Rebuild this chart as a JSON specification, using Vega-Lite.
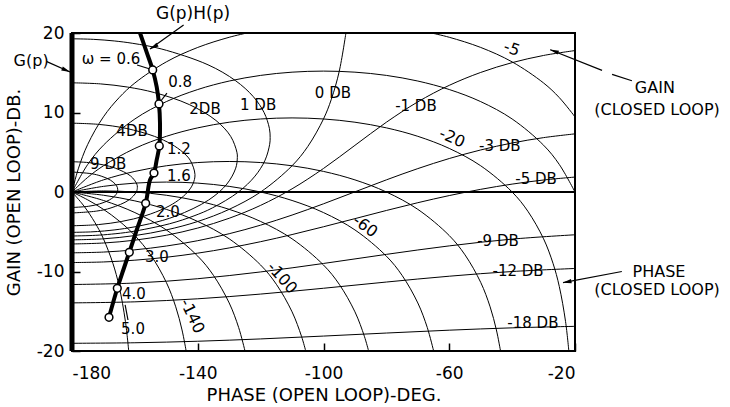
{
"$schema": "https://vega.github.io/schema/vega-lite/v6.json",
"width": 503, "height": 318,
"autosize": "none",
"padding": {"left": 72, "top": 33, "right": 155, "bottom": 56},
"background": "white",
"config": {"view": {"stroke": "black", "strokeWidth": 2}, "font": "DejaVu Sans"},
"datasets": {
"m": [
{"c":"-1","phase":-20,"gain":17.79},{"c":"-1","phase":-30,"gain":17.175},{"c":"-1","phase":-40,"gain":16.272},{"c":"-1","phase":-50,"gain":15.039},{"c":"-1","phase":-60,"gain":13.417},{"c":"-1","phase":-70,"gain":11.338},{"c":"-1","phase":-80,"gain":8.777},{"c":"-1","phase":-90,"gain":5.869},{"c":"-1","phase":-100,"gain":2.96},{"c":"-1","phase":-110,"gain":0.399},{"c":"-1","phase":-120,"gain":-1.68},{"c":"-1","phase":-130,"gain":-3.302},{"c":"-1","phase":-140,"gain":-4.536},{"c":"-1","phase":-150,"gain":-5.439},{"c":"-1","phase":-160,"gain":-6.058},{"c":"-1","phase":-170,"gain":-6.416},{"c":"-1","phase":-180,"gain":-6.535},
{"c":"-3","phase":-20,"gain":7.314},{"c":"-3","phase":-30,"gain":6.839},{"c":"-3","phase":-40,"gain":6.165},{"c":"-3","phase":-50,"gain":5.288},{"c":"-3","phase":-60,"gain":4.21},{"c":"-3","phase":-70,"gain":2.944},{"c":"-3","phase":-80,"gain":1.526},{"c":"-3","phase":-90,"gain":0.021},{"c":"-3","phase":-100,"gain":-1.484},{"c":"-3","phase":-110,"gain":-2.901},{"c":"-3","phase":-120,"gain":-4.169},{"c":"-3","phase":-130,"gain":-5.247},{"c":"-3","phase":-140,"gain":-6.124},{"c":"-3","phase":-150,"gain":-6.798},{"c":"-3","phase":-160,"gain":-7.274},{"c":"-3","phase":-170,"gain":-7.556},{"c":"-3","phase":-180,"gain":-7.649},
{"c":"-5","phase":-20,"gain":1.88},{"c":"-5","phase":-30,"gain":1.509},{"c":"-5","phase":-40,"gain":0.993},{"c":"-5","phase":-50,"gain":0.336},{"c":"-5","phase":-60,"gain":-0.45},{"c":"-5","phase":-70,"gain":-1.346},{"c":"-5","phase":-80,"gain":-2.325},{"c":"-5","phase":-90,"gain":-3.349},{"c":"-5","phase":-100,"gain":-4.372},{"c":"-5","phase":-110,"gain":-5.352},{"c":"-5","phase":-120,"gain":-6.249},{"c":"-5","phase":-130,"gain":-7.035},{"c":"-5","phase":-140,"gain":-7.692},{"c":"-5","phase":-150,"gain":-8.208},{"c":"-5","phase":-160,"gain":-8.577},{"c":"-5","phase":-170,"gain":-8.801},{"c":"-5","phase":-180,"gain":-8.875},
{"c":"-9","phase":-20,"gain":-5.38},{"c":"-9","phase":-40,"gain":-5.925},{"c":"-9","phase":-60,"gain":-6.778},{"c":"-9","phase":-80,"gain":-7.844},{"c":"-9","phase":-100,"gain":-8.988},{"c":"-9","phase":-120,"gain":-10.054},{"c":"-9","phase":-140,"gain":-10.907},{"c":"-9","phase":-160,"gain":-11.451},{"c":"-9","phase":-180,"gain":-11.637},
{"c":"-12","phase":-20,"gain":-9.619},{"c":"-12","phase":-40,"gain":-10.002},{"c":"-12","phase":-60,"gain":-10.592},{"c":"-12","phase":-80,"gain":-11.325},{"c":"-12","phase":-100,"gain":-12.108},{"c":"-12","phase":-120,"gain":-12.84},{"c":"-12","phase":-140,"gain":-13.433},{"c":"-12","phase":-160,"gain":-13.815},{"c":"-12","phase":-180,"gain":-13.947},
{"c":"-18","phase":-20,"gain":-16.898},{"c":"-18","phase":-40,"gain":-17.088},{"c":"-18","phase":-60,"gain":-17.381},{"c":"-18","phase":-80,"gain":-17.74},{"c":"-18","phase":-100,"gain":-18.122},{"c":"-18","phase":-120,"gain":-18.481},{"c":"-18","phase":-140,"gain":-18.773},{"c":"-18","phase":-160,"gain":-18.963},{"c":"-18","phase":-180,"gain":-19.031},
{"c":"0","phase":-92.87,"gain":20},{"c":"0","phase":-95,"gain":15.17},{"c":"0","phase":-97.5,"gain":11.67},{"c":"0","phase":-100,"gain":9.19},{"c":"0","phase":-105,"gain":5.72},{"c":"0","phase":-110,"gain":3.3},{"c":"0","phase":-120,"gain":0},{"c":"0","phase":-130,"gain":-2.18},{"c":"0","phase":-140,"gain":-3.71},{"c":"0","phase":-150,"gain":-4.77},{"c":"0","phase":-160,"gain":-5.48},{"c":"0","phase":-170,"gain":-5.89},{"c":"0","phase":-180,"gain":-6.02},
{"c":"1","phase":-180,"gain":19.273},{"c":"1","phase":-173.09,"gain":19.2},{"c":"1","phase":-166.57,"gain":19},{"c":"1","phase":-160.67,"gain":18.7},{"c":"1","phase":-151.64,"gain":18},{"c":"1","phase":-136.73,"gain":16},{"c":"1","phase":-127.97,"gain":14},{"c":"1","phase":-122.34,"gain":12},{"c":"1","phase":-118.9,"gain":10},{"c":"1","phase":-117.21,"gain":8},{"c":"1","phase":-116.97,"gain":6.87},{"c":"1","phase":-117.12,"gain":6},{"c":"1","phase":-118.59,"gain":4},{"c":"1","phase":-121.78,"gain":2},{"c":"1","phase":-127.07,"gain":0},{"c":"1","phase":-135.33,"gain":-2},{"c":"1","phase":-141.18,"gain":-3},{"c":"1","phase":-149.01,"gain":-4},{"c":"1","phase":-161.25,"gain":-5},{"c":"1","phase":-167.49,"gain":-5.3},{"c":"1","phase":-172.45,"gain":-5.45},{"c":"1","phase":-180,"gain":-5.535},
{"c":"2","phase":-180,"gain":13.734},{"c":"2","phase":-170.98,"gain":13.6},{"c":"2","phase":-162.34,"gain":13.2},{"c":"2","phase":-153.73,"gain":12.5},{"c":"2","phase":-142.71,"gain":11},{"c":"2","phase":-134.22,"gain":9},{"c":"2","phase":-129.53,"gain":7},{"c":"2","phase":-127.54,"gain":5},{"c":"2","phase":-127.41,"gain":4.33},{"c":"2","phase":-127.92,"gain":3},{"c":"2","phase":-130.74,"gain":1},{"c":"2","phase":-136.51,"gain":-1},{"c":"2","phase":-146.81,"gain":-3},{"c":"2","phase":-155.36,"gain":-4},{"c":"2","phase":-163.3,"gain":-4.6},{"c":"2","phase":-169.71,"gain":-4.9},{"c":"2","phase":-174.11,"gain":-5.02},{"c":"2","phase":-180,"gain":-5.076},
{"c":"4","phase":-180,"gain":8.657},{"c":"4","phase":-171.36,"gain":8.5},{"c":"4","phase":-162.75,"gain":8},{"c":"4","phase":-153.78,"gain":7},{"c":"4","phase":-148.33,"gain":6},{"c":"4","phase":-144.72,"gain":5},{"c":"4","phase":-142.41,"gain":4},{"c":"4","phase":-140.88,"gain":2.2},{"c":"4","phase":-141.56,"gain":1},{"c":"4","phase":-143.22,"gain":0},{"c":"4","phase":-146.03,"gain":-1},{"c":"4","phase":-150.29,"gain":-2},{"c":"4","phase":-156.81,"gain":-3},{"c":"4","phase":-164.16,"gain":-3.7},{"c":"4","phase":-171.63,"gain":-4.1},{"c":"4","phase":-180,"gain":-4.249},
{"c":"9","phase":-180,"gain":3.808},{"c":"9","phase":-174.7,"gain":3.7},{"c":"9","phase":-169.89,"gain":3.4},{"c":"9","phase":-166.24,"gain":3},{"c":"9","phase":-161.32,"gain":2},{"c":"9","phase":-159.38,"gain":1},{"c":"9","phase":-159.21,"gain":0.58},{"c":"9","phase":-159.55,"gain":0},{"c":"9","phase":-161.89,"gain":-1},{"c":"9","phase":-167.59,"gain":-2},{"c":"9","phase":-172.17,"gain":-2.4},{"c":"9","phase":-180,"gain":-2.638},
{"c":"12","phase":-180,"gain":2.512},{"c":"12","phase":-173.8,"gain":2.3},{"c":"12","phase":-170.72,"gain":2},{"c":"12","phase":-167.81,"gain":1.5},{"c":"12","phase":-165.85,"gain":0.8},{"c":"12","phase":-165.45,"gain":0.283},{"c":"12","phase":-165.96,"gain":-0.3},{"c":"12","phase":-168.1,"gain":-1},{"c":"12","phase":-171.27,"gain":-1.5},{"c":"12","phase":-174.81,"gain":-1.8},{"c":"12","phase":-180,"gain":-1.947}
],
"n": [
{"c":"-5a","phase":-180,"gain":0},{"c":"-5a","phase":-178,"gain":2.913},{"c":"-5a","phase":-175,"gain":5.988},{"c":"-5a","phase":-170,"gain":9.454},{"c":"-5a","phase":-165,"gain":11.875},{"c":"-5a","phase":-160,"gain":13.713},{"c":"-5a","phase":-150,"gain":16.366},{"c":"-5a","phase":-140,"gain":18.184},{"c":"-5a","phase":-130,"gain":19.462},{"c":"-5a","phase":-124.36,"gain":20},
{"c":"-5b","phase":-65.64,"gain":20},{"c":"-5b","phase":-60,"gain":19.462},{"c":"-5b","phase":-50,"gain":18.184},{"c":"-5b","phase":-40,"gain":16.366},{"c":"-5b","phase":-30,"gain":13.713},{"c":"-5b","phase":-25,"gain":11.875},{"c":"-5b","phase":-20,"gain":9.454},
{"c":"-10","phase":-180,"gain":0},{"c":"-10","phase":-175,"gain":3.466},{"c":"-10","phase":-170,"gain":5.888},{"c":"-10","phase":-160,"gain":9.186},{"c":"-10","phase":-150,"gain":11.368},{"c":"-10","phase":-140,"gain":12.891},{"c":"-10","phase":-130,"gain":13.957},{"c":"-10","phase":-120,"gain":14.666},{"c":"-10","phase":-110,"gain":15.074},{"c":"-10","phase":-100,"gain":15.207},{"c":"-10","phase":-90,"gain":15.074},{"c":"-10","phase":-80,"gain":14.666},{"c":"-10","phase":-70,"gain":13.957},{"c":"-10","phase":-60,"gain":12.891},{"c":"-10","phase":-50,"gain":11.368},{"c":"-10","phase":-40,"gain":9.186},{"c":"-10","phase":-30,"gain":5.888},{"c":"-10","phase":-25,"gain":3.466},{"c":"-10","phase":-20,"gain":0},
{"c":"-20","phase":-180,"gain":0},{"c":"-20","phase":-175,"gain":1.838},{"c":"-20","phase":-170,"gain":3.299},{"c":"-20","phase":-160,"gain":5.481},{"c":"-20","phase":-150,"gain":7.004},{"c":"-20","phase":-140,"gain":8.069},{"c":"-20","phase":-130,"gain":8.778},{"c":"-20","phase":-120,"gain":9.186},{"c":"-20","phase":-110,"gain":9.319},{"c":"-20","phase":-100,"gain":9.186},{"c":"-20","phase":-90,"gain":8.778},{"c":"-20","phase":-80,"gain":8.069},{"c":"-20","phase":-70,"gain":7.004},{"c":"-20","phase":-60,"gain":5.481},{"c":"-20","phase":-50,"gain":3.299},{"c":"-20","phase":-40,"gain":0},{"c":"-20","phase":-35,"gain":-2.421},{"c":"-20","phase":-30,"gain":-5.888},{"c":"-20","phase":-27,"gain":-8.963},{"c":"-20","phase":-25,"gain":-11.876},{"c":"-20","phase":-23,"gain":-16.305},{"c":"-20","phase":-21.96,"gain":-20},
{"c":"-40","phase":-180,"gain":0},{"c":"-40","phase":-170,"gain":1.524},{"c":"-40","phase":-160,"gain":2.589},{"c":"-40","phase":-150,"gain":3.298},{"c":"-40","phase":-140,"gain":3.706},{"c":"-40","phase":-130,"gain":3.839},{"c":"-40","phase":-120,"gain":3.706},{"c":"-40","phase":-110,"gain":3.298},{"c":"-40","phase":-100,"gain":2.589},{"c":"-40","phase":-90,"gain":1.524},{"c":"-40","phase":-80,"gain":0},{"c":"-40","phase":-70,"gain":-2.182},{"c":"-40","phase":-60,"gain":-5.48},{"c":"-40","phase":-55,"gain":-7.901},{"c":"-40","phase":-50,"gain":-11.367},{"c":"-40","phase":-47,"gain":-14.443},{"c":"-40","phase":-45,"gain":-17.355},{"c":"-40","phase":-43.69,"gain":-20},
{"c":"-60","phase":-180,"gain":0},{"c":"-60","phase":-170,"gain":0.709},{"c":"-60","phase":-160,"gain":1.116},{"c":"-60","phase":-150,"gain":1.249},{"c":"-60","phase":-140,"gain":1.116},{"c":"-60","phase":-130,"gain":0.709},{"c":"-60","phase":-120,"gain":0},{"c":"-60","phase":-110,"gain":-1.066},{"c":"-60","phase":-100,"gain":-2.589},{"c":"-60","phase":-90,"gain":-4.771},{"c":"-60","phase":-80,"gain":-8.069},{"c":"-60","phase":-75,"gain":-10.49},{"c":"-60","phase":-70,"gain":-13.957},{"c":"-60","phase":-67,"gain":-17.033},{"c":"-60","phase":-64.97,"gain":-20},
{"c":"-80","phase":-180,"gain":0},{"c":"-80","phase":-170,"gain":0.133},{"c":"-80","phase":-160,"gain":0},{"c":"-80","phase":-150,"gain":-0.407},{"c":"-80","phase":-140,"gain":-1.117},{"c":"-80","phase":-130,"gain":-2.182},{"c":"-80","phase":-120,"gain":-3.706},{"c":"-80","phase":-110,"gain":-5.888},{"c":"-80","phase":-100,"gain":-9.186},{"c":"-80","phase":-95,"gain":-11.607},{"c":"-80","phase":-90,"gain":-15.073},{"c":"-80","phase":-87,"gain":-18.149},{"c":"-80","phase":-85.65,"gain":-20},
{"c":"-100","phase":-180,"gain":0},{"c":"-100","phase":-170,"gain":-0.407},{"c":"-100","phase":-160,"gain":-1.117},{"c":"-100","phase":-150,"gain":-2.182},{"c":"-100","phase":-140,"gain":-3.706},{"c":"-100","phase":-130,"gain":-5.888},{"c":"-100","phase":-120,"gain":-9.186},{"c":"-100","phase":-115,"gain":-11.607},{"c":"-100","phase":-110,"gain":-15.073},{"c":"-100","phase":-107,"gain":-18.149},{"c":"-100","phase":-105.65,"gain":-20},
{"c":"-120","phase":-180,"gain":0},{"c":"-120","phase":-170,"gain":-1.066},{"c":"-120","phase":-160,"gain":-2.589},{"c":"-120","phase":-150,"gain":-4.771},{"c":"-120","phase":-140,"gain":-8.069},{"c":"-120","phase":-135,"gain":-10.49},{"c":"-120","phase":-130,"gain":-13.957},{"c":"-120","phase":-127,"gain":-17.033},{"c":"-120","phase":-124.97,"gain":-20},
{"c":"-140","phase":-180,"gain":0},{"c":"-140","phase":-175,"gain":-0.989},{"c":"-140","phase":-170,"gain":-2.182},{"c":"-140","phase":-165,"gain":-3.643},{"c":"-140","phase":-160,"gain":-5.48},{"c":"-140","phase":-155,"gain":-7.901},{"c":"-140","phase":-150,"gain":-11.367},{"c":"-140","phase":-147,"gain":-14.443},{"c":"-140","phase":-145,"gain":-17.355},{"c":"-140","phase":-143.69,"gain":-20},
{"c":"-160","phase":-180,"gain":0},{"c":"-160","phase":-177,"gain":-1.362},{"c":"-160","phase":-175,"gain":-2.421},{"c":"-160","phase":-172,"gain":-4.323},{"c":"-160","phase":-170,"gain":-5.888},{"c":"-160","phase":-167,"gain":-8.963},{"c":"-160","phase":-165,"gain":-11.876},{"c":"-160","phase":-163,"gain":-16.305},{"c":"-160","phase":-161.96,"gain":-20}
],
"zero": [{"phase":-180,"gain":0},{"phase":-20,"gain":0}],
"gp": [{"phase":-180,"gain":-20},{"phase":-180,"gain":20}],
"gh": [
{"phase":-158.37,"gain":20},{"phase":-156.15,"gain":17.48},{"phase":-154.33,"gain":15.35},{"phase":-153.06,"gain":13.21},{"phase":-152.33,"gain":11.07},{"phase":-152.01,"gain":8.68},{"phase":-152.23,"gain":5.79},{"phase":-153.06,"gain":4.03},{"phase":-153.92,"gain":2.39},{"phase":-155.19,"gain":1.51},{"phase":-156.56,"gain":-1.42},{"phase":-159.42,"gain":-4.78},{"phase":-161.77,"gain":-7.58},{"phase":-163.68,"gain":-9.81},{"phase":-165.59,"gain":-12.11},{"phase":-168.23,"gain":-15.76}
],
"w": [
{"omega":0.6,"phase":-154.33,"gain":15.35},{"omega":0.8,"phase":-152.33,"gain":11.07},{"omega":1.2,"phase":-152.23,"gain":5.79},{"omega":1.6,"phase":-153.92,"gain":2.39},{"omega":2.0,"phase":-156.56,"gain":-1.42},{"omega":3.0,"phase":-161.77,"gain":-7.58},{"omega":4.0,"phase":-165.59,"gain":-12.11},{"omega":5.0,"phase":-168.23,"gain":-15.76}
],
"ann": [
{"id":"gain1","phase":-1.9,"gain":14.0},{"id":"gain1","phase":-8.2,"gain":14.8},
{"id":"gain2","phase":-11.4,"gain":15.3},{"id":"gain2","phase":-27.9,"gain":17.9},
{"id":"phase","phase":-5.1,"gain":-10.0},{"id":"phase","phase":-23.8,"gain":-11.4},
{"id":"gh","phase":-144.5,"gain":21.0},{"id":"gh","phase":-155.2,"gain":18.0},
{"id":"gp","phase":-188.0,"gain":16.4},{"id":"gp","phase":-180.6,"gain":15.1},
{"id":"w06","phase":-159.3,"gain":15.97},{"id":"w06","phase":-155.2,"gain":15.47},
{"id":"w08","phase":-149.8,"gain":12.45},{"id":"w08","phase":-152.0,"gain":11.32},
{"id":"w50","phase":-163.1,"gain":-14.2},{"id":"w50","phase":-162.2,"gain":-16.1}
],
"lab": [
{"t":"9 DB","phase":-168.5,"gain":3.5},{"t":"4DB","phase":-160.9,"gain":7.7},{"t":"2DB","phase":-137.7,"gain":10.4},{"t":"1 DB","phase":-120.8,"gain":10.9},{"t":"0 DB","phase":-97.0,"gain":12.5},{"t":"-1 DB","phase":-70.6,"gain":10.8},{"t":"-3 DB","phase":-43.9,"gain":5.8},{"t":"-5 DB","phase":-32.4,"gain":1.6},{"t":"-9 DB","phase":-44.5,"gain":-6.2},{"t":"-12 DB","phase":-38.1,"gain":-9.9},{"t":"-18 DB","phase":-33.4,"gain":-16.5},
{"t":"ω = 0.6","phase":-167.6,"gain":16.7},{"t":"0.8","phase":-145.6,"gain":13.8},{"t":"1.2","phase":-146.0,"gain":5.4},{"t":"1.6","phase":-146.0,"gain":2.0},{"t":"2.0","phase":-149.5,"gain":-2.5},{"t":"3.0","phase":-153.0,"gain":-8.2},{"t":"4.0","phase":-160.3,"gain":-12.8},{"t":"5.0","phase":-160.6,"gain":-17.2}
],
"side": [
{"t":"GAIN","phase":5.4,"gain":13.1},{"t":"(CLOSED LOOP)","phase":6.1,"gain":10.3},{"t":"PHASE","phase":6.7,"gain":-10.1},{"t":"(CLOSED LOOP)","phase":6.1,"gain":-12.3},{"t":"G(p)","phase":-193.0,"gain":16.5}
],
"ghl": [{"t":"G(p)H(p)","phase":-141.5,"gain":22.4}],
"r20": [{"t":"-20","phase":-59.1,"gain":6.8}],
"r5": [{"t":"-5","phase":-40.1,"gain":18.0}],
"r60": [{"t":"-60","phase":-86.8,"gain":-4.3}],
"r100": [{"t":"-100","phase":-113.2,"gain":-10.8}],
"r140": [{"t":"-140","phase":-141.8,"gain":-15.6}],
"hGain": [{"phase":-26.4,"gain":17.7}],
"hPhase": [{"phase":-22.3,"gain":-11.3}],
"hGH": [{"phase":-153.8,"gain":18.3}],
"hGP": [{"phase":-182.1,"gain":15.35}]
},
"encoding": {
"x": {"field":"phase","type":"quantitative","scale":{"domain":[-180,-20],"nice":false,"zero":false},
 "axis":{"values":[-180,-140,-100,-60,-20],"title":"PHASE (OPEN LOOP)-DEG.","grid":false,"domain":false,"tickColor":"black","tickSize":-8,"tickWidth":1.5,"labelPadding":22,"labelFontSize":17,"labelColor":"black","labelFont":"DejaVu Sans","titleFont":"DejaVu Sans","titleFontSize":18,"titleFontWeight":"normal","titleColor":"black","titlePadding":5,"labelExpr":"datum.value < 0 ? '-' + (-datum.value) : '' + datum.value"}},
"y": {"field":"gain","type":"quantitative","scale":{"domain":[-20,20],"nice":false,"zero":false},
 "axis":{"values":[-20,-10,0,10,20],"title":"GAIN (OPEN LOOP)-DB.","grid":false,"domain":false,"tickColor":"black","tickSize":-8,"tickWidth":1.5,"labelPadding":16,"labelFontSize":17,"labelColor":"black","labelFont":"DejaVu Sans","titleFont":"DejaVu Sans","titleFontSize":18,"titleFontWeight":"normal","titleColor":"black","titlePadding":13,"labelExpr":"datum.value < 0 ? '-' + (-datum.value) : '' + datum.value"}}
},
"layer": [
{"data":{"name":"m"},"mark":{"type":"line","interpolate":"catmull-rom","color":"black","strokeWidth":1,"clip":true},"encoding":{"detail":{"field":"c","type":"nominal"},"order":{"value":null}}},
{"data":{"name":"n"},"mark":{"type":"line","interpolate":"catmull-rom","color":"black","strokeWidth":1,"clip":true},"encoding":{"detail":{"field":"c","type":"nominal"},"order":{"value":null}}},
{"data":{"name":"zero"},"mark":{"type":"line","color":"black","strokeWidth":2},"encoding":{}},
{"data":{"name":"gp"},"mark":{"type":"line","color":"black","strokeWidth":5},"encoding":{"order":{"value":null}}},
{"data":{"name":"gh"},"mark":{"type":"line","interpolate":"catmull-rom","color":"black","strokeWidth":4,"clip":true},"encoding":{"order":{"value":null}}},
{"data":{"name":"ann"},"mark":{"type":"line","color":"black","strokeWidth":1.2},"encoding":{"detail":{"field":"id","type":"nominal"},"order":{"value":null}}},
{"data":{"name":"w"},"mark":{"type":"point","shape":"circle","filled":true,"fill":"white","stroke":"black","strokeWidth":1.5,"size":60,"opacity":1}},
{"data":{"name":"hGain"},"mark":{"type":"point","shape":"M0,-1L0.4,0.7L-0.4,0.7Z","filled":true,"color":"black","size":110,"angle":291,"opacity":1}},
{"data":{"name":"hPhase"},"mark":{"type":"point","shape":"M0,-1L0.4,0.7L-0.4,0.7Z","filled":true,"color":"black","size":110,"angle":259,"opacity":1}},
{"data":{"name":"hGH"},"mark":{"type":"point","shape":"M0,-1L0.4,0.7L-0.4,0.7Z","filled":true,"color":"black","size":110,"angle":240,"opacity":1}},
{"data":{"name":"hGP"},"mark":{"type":"point","shape":"M0,-1L0.4,0.7L-0.4,0.7Z","filled":true,"color":"black","size":110,"angle":113,"opacity":1}},
{"data":{"name":"lab"},"mark":{"type":"text","font":"DejaVu Sans","fontSize":15,"color":"black","align":"center","baseline":"middle"},"encoding":{"text":{"field":"t","type":"nominal"}}},
{"data":{"name":"side"},"mark":{"type":"text","font":"DejaVu Sans","fontSize":16,"color":"black","align":"center","baseline":"middle"},"encoding":{"text":{"field":"t","type":"nominal"}}},
{"data":{"name":"ghl"},"mark":{"type":"text","font":"DejaVu Sans","fontSize":17,"color":"black","align":"center","baseline":"middle"},"encoding":{"text":{"field":"t","type":"nominal"}}},
{"data":{"name":"r20"},"mark":{"type":"text","font":"DejaVu Sans","fontSize":16,"color":"black","align":"center","baseline":"middle","angle":24},"encoding":{"text":{"field":"t","type":"nominal"}}},
{"data":{"name":"r5"},"mark":{"type":"text","font":"DejaVu Sans","fontSize":16,"color":"black","align":"center","baseline":"middle","angle":20},"encoding":{"text":{"field":"t","type":"nominal"}}},
{"data":{"name":"r60"},"mark":{"type":"text","font":"DejaVu Sans","fontSize":16,"color":"black","align":"center","baseline":"middle","angle":36},"encoding":{"text":{"field":"t","type":"nominal"}}},
{"data":{"name":"r100"},"mark":{"type":"text","font":"DejaVu Sans","fontSize":16,"color":"black","align":"center","baseline":"middle","angle":48},"encoding":{"text":{"field":"t","type":"nominal"}}},
{"data":{"name":"r140"},"mark":{"type":"text","font":"DejaVu Sans","fontSize":16,"color":"black","align":"center","baseline":"middle","angle":64},"encoding":{"text":{"field":"t","type":"nominal"}}}
]
}
